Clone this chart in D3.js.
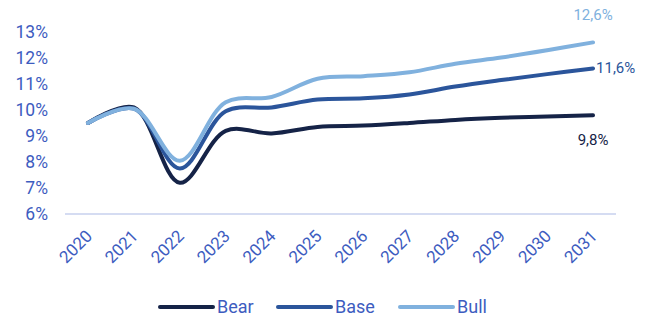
<!DOCTYPE html>
<html>
<head>
<meta charset="utf-8">
<script src="https://cdn.jsdelivr.net/npm/d3@7"></script>
<style>
  body { margin: 0; background: #fff; }
  text { font-family: Roboto, "Noto Sans", sans-serif; }
</style>
</head>
<body>
<div id="chart"></div>
<script>
var years = ["2020", "2021", "2022", "2023", "2024", "2025", "2026", "2027", "2028", "2029", "2030", "2031"];
var bear = [9.5, 10.1, 7.2, 9.2, 9.1, 9.35, 9.4, 9.5, 9.62, 9.7, 9.75, 9.8];
var base = [9.5, 10.05, 7.75, 9.95, 10.1, 10.4, 10.45, 10.6, 10.9, 11.15, 11.38, 11.6];
var bull = [9.5, 10.05, 8.05, 10.3, 10.5, 11.2, 11.3, 11.45, 11.78, 12.02, 12.3, 12.6];
var yTicks = [6, 7, 8, 9, 10, 11, 12, 13];
var endLabels = ["9,8%", "11,6%", "12,6%"];

var series = [
	{ name: "Bear", values: bear, color: "#152347", label: endLabels[0] },
	{ name: "Base", values: base, color: "#2b559b", label: endLabels[1] },
	{ name: "Bull", values: bull, color: "#80b1de", label: endLabels[2] }
];

var width = 646, height = 318;
var margin = { top: 32, right: 30, bottom: 104, left: 65 };

var svg = d3.select("#chart")
	.append("svg")
	.attr("width", width)
	.attr("height", height);

var x = d3.scalePoint()
	.domain(years)
	.range([margin.left, width - margin.right])
	.padding(0.5);

var y = d3.scaleLinear()
	.domain([6, 13])
	.range([height - margin.bottom, margin.top]);

var tickColor = "#3d5cc0";

// y labels
svg.append("g")
	.selectAll("text")
	.data(yTicks)
	.enter()
	.append("text")
	.attr("x", 48)
	.attr("y", function (d) { return y(d); })
	.attr("dy", "0.35em")
	.attr("text-anchor", "end")
	.attr("font-size", 17.5)
	.attr("fill", tickColor)
	.text(function (d) { return d + "%"; });

// baseline
svg.append("line")
	.attr("x1", margin.left)
	.attr("x2", width - margin.right)
	.attr("y1", y(6))
	.attr("y2", y(6))
	.attr("stroke", "#d5dcf2")
	.attr("stroke-width", 2);

// x labels
svg.append("g")
	.selectAll("text")
	.data(years)
	.enter()
	.append("text")
	.attr("transform", function (d) {
		return "translate(" + (x(d) + 1) + "," + (y(6) + 19) + ") rotate(-45)";
	})
	.attr("text-anchor", "end")
	.attr("dy", "0.35em")
	.attr("font-size", 17)
	.attr("fill", tickColor)
	.text(function (d) { return d; });

var line = d3.line()
	.x(function (d, i) { return x(years[i]); })
	.y(function (d) { return y(d); })
	.curve(d3.curveCatmullRom.alpha(0.5));

svg.selectAll("path.series")
	.data(series)
	.enter()
	.append("path")
	.attr("class", "series")
	.attr("d", function (d) { return line(d.values); })
	.attr("fill", "none")
	.attr("stroke", function (d) { return d.color; })
	.attr("stroke-width", 4)
	.attr("stroke-linecap", "round");

// end labels
var lastX = x(years[years.length - 1]);
svg.append("text")
	.attr("x", lastX)
	.attr("y", y(bear[11]) + 30)
	.attr("text-anchor", "middle")
	.attr("font-size", 15)
	.attr("fill", series[0].color)
	.text(series[0].label);
svg.append("text")
	.attr("x", lastX + 3)
	.attr("y", y(base[11]) + 5)
	.attr("font-size", 15)
	.attr("fill", series[1].color)
	.text(series[1].label);
svg.append("text")
	.attr("x", lastX)
	.attr("y", y(bull[11]) - 22)
	.attr("text-anchor", "middle")
	.attr("font-size", 15)
	.attr("fill", series[2].color)
	.text(series[2].label);

// legend
var legendX = [160, 278, 400];
var legend = svg.append("g")
	.selectAll("g")
	.data(series)
	.enter()
	.append("g")
	.attr("transform", function (d, i) { return "translate(" + legendX[i] + ",307)"; });

legend.append("line")
	.attr("x1", 0)
	.attr("x2", 53)
	.attr("stroke", function (d) { return d.color; })
	.attr("stroke-width", 4)
	.attr("stroke-linecap", "round");

legend.append("text")
	.attr("x", 57)
	.attr("dy", "0.35em")
	.attr("font-size", 18)
	.attr("fill", tickColor)
	.text(function (d) { return d.name; });
</script>
</body>
</html>
